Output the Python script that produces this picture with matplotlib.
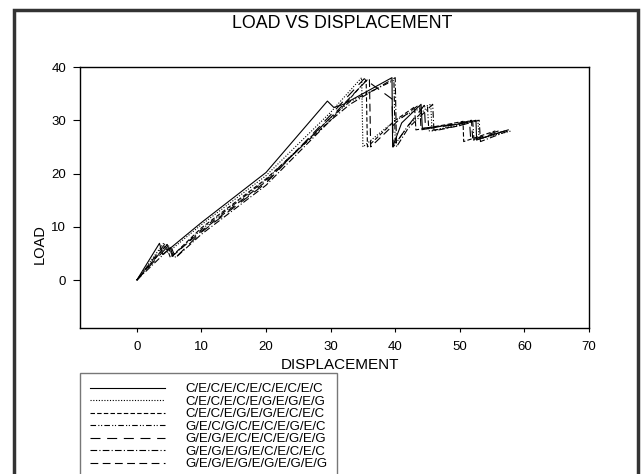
import matplotlib.pyplot as plt
from matplotlib.patches import Rectangle

plt.rcParams['font.family'] = ['Liberation Sans', 'DejaVu Sans']

# ply sequences (legend labels)
labels = ['C/E/C/E/C/E/C/E/C/E/C', 'C/E/C/E/C/E/G/E/G/E/G', 'C/E/C/E/G/E/G/E/C/E/C',
          'G/E/C/G/C/E/C/E/G/E/C', 'G/E/G/E/C/E/C/E/G/E/G', 'G/E/G/E/G/E/C/E/C/E/C',
          'G/E/G/E/G/E/G/E/G/E/G']

# displacement / load
x1 = [0, 3.5, 4.0, 10, 20, 29.5, 30.5, 32, 39.5, 39.6, 41, 44, 44.2, 50, 52.5, 52.6, 57.5]
y1 = [0, 6.9, 4.8, 10.8, 20.2, 33.6, 32.4, 33, 38, 25, 29.5, 33, 28.5, 29.3, 30, 26.3, 28.2]
x2 = [0, 4.2, 4.8, 10, 20, 30, 34.8, 35.0, 38, 40, 42.5, 45.5, 45.7, 51, 52.8, 53, 58]
y2 = [0, 7, 5.2, 10.4, 19.6, 31.5, 38, 25, 28, 30, 31.5, 33, 28, 29.5, 30, 26.5, 28]
x3 = [0, 4.5, 5.2, 10, 20, 30, 35.5, 35.7, 40, 43, 43.2, 48, 50.5, 50.6, 55.5]
y3 = [0, 6.5, 4.2, 9.8, 19, 30, 37.5, 25, 30, 32.5, 28.2, 29.2, 29.8, 26, 28]
x4 = [0, 4.8, 5.5, 10, 20, 30, 33, 39.8, 40, 42, 45, 45.2, 50, 52, 52.2, 56.5]
y4 = [0, 6.8, 4.5, 9.5, 18.8, 30.5, 33.5, 37.5, 25.5, 29, 32.5, 28, 29, 29.8, 26.2, 27.8]
x5 = [0, 5, 5.8, 10, 20, 30, 35.2, 39.5, 39.7, 42, 44.5, 44.7, 49.5, 51.5, 51.7, 56]
y5 = [0, 6.6, 4.0, 9.0, 18.2, 31, 37.8, 34, 25, 29, 32.8, 28.4, 29.2, 29.9, 26.2, 28]
x6 = [0, 5.3, 6, 10, 20, 30, 33, 40, 40.2, 42, 45.8, 46, 50, 53, 53.2, 57.5]
y6 = [0, 6.2, 4.2, 8.6, 17.8, 30, 33, 38, 25, 28.5, 33, 28, 29, 30, 26, 28]
x7 = [0, 4.5, 5.5, 10, 20, 30, 36, 36.2, 40.5, 43.8, 44, 50, 51.8, 52, 57]
y7 = [0, 7, 4.5, 9.2, 18.5, 30.5, 38, 25, 30, 33, 28.2, 29.5, 30, 26.4, 28]

xs = [x1, x2, x3, x4, x5, x6, x7]
ys = [y1, y2, y3, y4, y5, y6, y7]
styles = ['-', (0, (1, 1.5)), (0, (4, 2)), (0, (5, 2, 1, 1.5, 1, 2)),
          (0, (9, 6)), (0, (6, 2, 1, 2)), (0, (7, 4))]

fig = plt.figure(figsize=(6.44, 4.74), dpi=100, facecolor='w')
ax = fig.add_axes([80 / 644, 1 - 328 / 474, 509 / 644, 261 / 474])

lines = []
for x, y, ls, lab in zip(xs, ys, styles, labels):
    ln, = ax.plot(x, y, color='black', linestyle=ls, linewidth=0.8, label=lab)
    lines.append(ln)

ax.set_xlim(-8.8, 70)
ax.set_ylim(-9, 40)
ax.set_xticks(range(0, 71, 10))
ax.set_yticks(range(0, 41, 10))
ax.tick_params(direction='out', labelsize=9.5, color='black')
ax.tick_params(axis='x', length=3, pad=6)
ax.tick_params(axis='y', length=5, pad=5)
for s in ax.spines.values():
    s.set_linewidth(1.0)

ax.set_xlabel('DISPLACEMENT', fontsize=11)
ax.xaxis.set_label_coords(0.51, -0.115)
ax.set_ylabel('LOAD', fontsize=10.5)
ax.yaxis.set_label_coords(-0.066, 0.32)

fig.text(342 / 644, 1 - 23 / 474, 'LOAD VS DISPLACEMENT', ha='center', va='center', fontsize=12.8)

leg = fig.legend(handles=lines, loc='upper left', bbox_to_anchor=(80 / 644, 1 - 373 / 474),
                 fontsize=9.5, frameon=True, fancybox=False, edgecolor='#555555',
                 handlelength=5.7, handletextpad=1.5, labelspacing=0.02, borderpad=0.75,
                 borderaxespad=0)
leg.get_frame().set_linewidth(1.0)

# outer frame
fig.patches.append(Rectangle((14 / 644, -0.05), 624 / 644, 1.05 - 10 / 474,
                             transform=fig.transFigure, fill=False,
                             edgecolor='#333333', linewidth=2.5))

fig.savefig('out.png', dpi=100)
